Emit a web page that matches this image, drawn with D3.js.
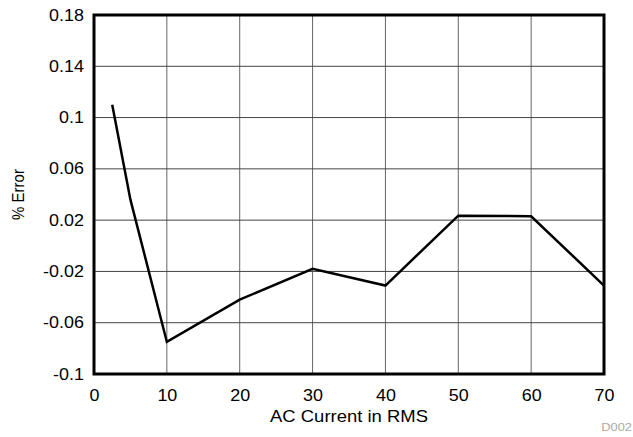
<!DOCTYPE html>
<html>
<head>
<meta charset="utf-8">
<script src="https://cdn.jsdelivr.net/npm/d3@7"></script>
<style>
  body { margin: 0; background: #fff; }
  text { font-family: "Liberation Sans", Arial, sans-serif; }
</style>
</head>
<body>
<div id="canvas"></div>
<script>
var width = 633;
var height = 437;

// data
var current = [2.5, 5, 10, 20, 30, 40, 50, 60, 70];
var errorPct = [0.11, 0.036, -0.075, -0.042, -0.018, -0.031, 0.0235, 0.023, -0.031];

var xTicks = [0, 10, 20, 30, 40, 50, 60, 70];
var yTicks = [-0.1, -0.06, -0.02, 0.02, 0.06, 0.1, 0.14, 0.18];
var yTickLabels = ["-0.1", "-0.06", "-0.02", "0.02", "0.06", "0.1", "0.14", "0.18"];

var margin = {top: 15, right: 29, bottom: 63, left: 94};
var stretch = 1.12; // the original text is a bit wide

var svg = d3.select("#canvas").append("svg")
    .attr("width", width)
    .attr("height", height);

var x = d3.scaleLinear()
    .domain([0, 70])
    .range([margin.left, width - margin.right]);

var y = d3.scaleLinear()
    .domain([-0.1, 0.18])
    .range([height - margin.bottom, margin.top]);

// grid
svg.append("g")
    .selectAll("line")
    .data(xTicks.slice(1, -1))
    .enter().append("line")
    .attr("x1", d => x(d)).attr("x2", d => x(d))
    .attr("y1", y(0.18)).attr("y2", y(-0.1))
    .attr("stroke", "#666")
    .attr("stroke-width", 1);

svg.append("g")
    .selectAll("line")
    .data(yTicks.slice(1, -1))
    .enter().append("line")
    .attr("x1", x(0)).attr("x2", x(70))
    .attr("y1", d => y(d)).attr("y2", d => y(d))
    .attr("stroke", "#444")
    .attr("stroke-width", 1);

// axes (labels only, frame drawn separately)
var xAxis = svg.append("g")
    .attr("transform", "translate(0," + y(-0.1) + ")")
    .call(d3.axisBottom(x).tickValues(xTicks).tickSize(0).tickPadding(16));

var yAxis = svg.append("g")
    .attr("transform", "translate(" + x(0) + ",0)")
    .call(d3.axisLeft(y).tickValues(yTicks).tickSize(0).tickPadding(9)
        .tickFormat((d, i) => yTickLabels[i]));

[xAxis, yAxis].forEach(function(g) {
  g.select(".domain").remove();
  g.selectAll("text")
    .attr("fill", "#000")
    .attr("transform", "scale(" + stretch + ",1)")
    .style("font-size", "16px")
    .style("font-family", "'Liberation Sans', Arial, sans-serif");
});

// data line
var line = d3.line()
    .x((d, i) => x(current[i]))
    .y(d => y(d));

svg.append("path")
    .datum(errorPct)
    .attr("d", line)
    .attr("fill", "none")
    .attr("stroke", "#000")
    .attr("stroke-width", 2.5)
    .attr("stroke-linejoin", "miter");

// frame
svg.append("rect")
    .attr("x", x(0)).attr("y", y(0.18))
    .attr("width", x(70) - x(0))
    .attr("height", y(-0.1) - y(0.18))
    .attr("fill", "none")
    .attr("stroke", "#000")
    .attr("stroke-width", 3);

// titles
svg.append("text")
    .attr("transform", "translate(" + ((x(0) + x(70)) / 2) + ",422) scale(" + stretch + ",1)")
    .attr("text-anchor", "middle")
    .style("font-size", "16.5px")
    .text("AC Current in RMS");

svg.append("text")
    .attr("transform", "translate(24," + ((y(-0.1) + y(0.18)) / 2) + ") scale(" + stretch + ",1) rotate(-90)")
    .attr("text-anchor", "middle")
    .style("font-size", "15px")
    .text("% Error");

svg.append("text")
    .attr("transform", "translate(632,431) scale(" + stretch + ",1)")
    .attr("text-anchor", "end")
    .attr("fill", "#aaa")
    .style("font-size", "11.5px")
    .text("D002");
</script>
</body>
</html>
